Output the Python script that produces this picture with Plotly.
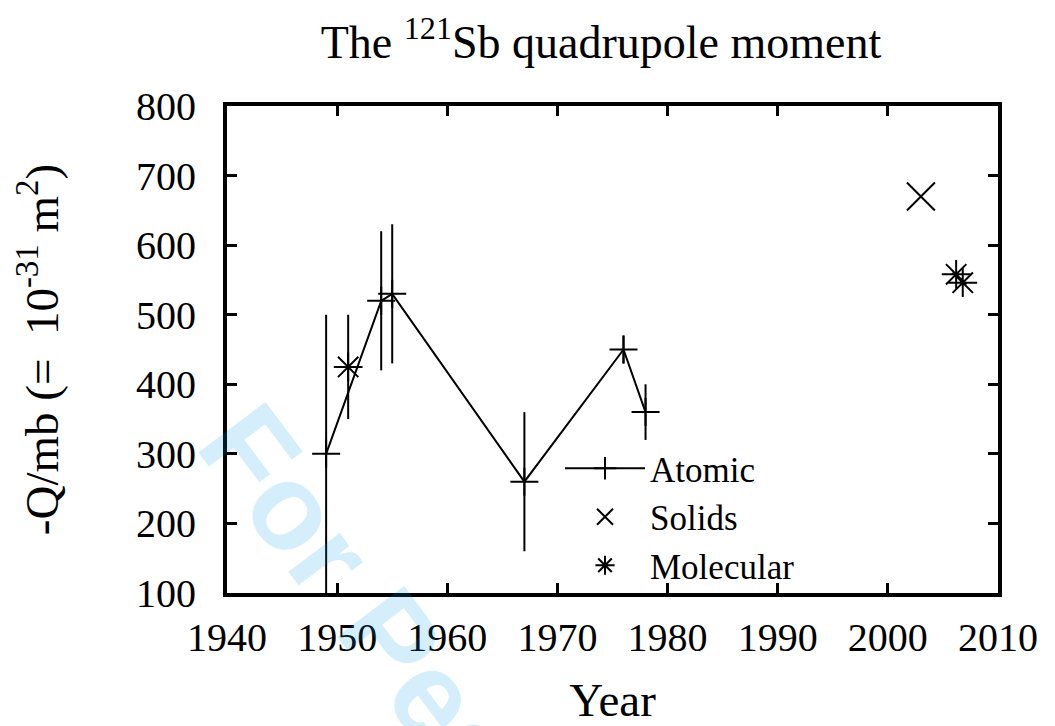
import plotly.graph_objects as go

# ---- data ----
atomic_year = [1949, 1954, 1955, 1967, 1976, 1978]
atomic_q = [300, 520, 530, 260, 450, 360]
atomic_err = [200, 100, 100, 100, 20, 40]

solids_year = [2003]
solids_q = [670]

molecular_year = [1951, 2006.2, 2006.8]
molecular_q = [425, 558, 546]
molecular_err = [75, 0, 0]

x_ticks = [1940, 1950, 1960, 1970, 1980, 1990, 2000, 2010]
y_ticks = [100, 200, 300, 400, 500, 600, 700, 800]

SERIF = "Liberation Serif, Times New Roman, serif"
BLACK = "black"

fig = go.Figure()

fig.add_trace(go.Scatter(
    x=atomic_year, y=atomic_q, name="Atomic", mode="lines+markers",
    line=dict(color=BLACK, width=2),
    marker=dict(symbol="cross-thin", size=20, line=dict(color=BLACK, width=2)),
    error_y=dict(type="data", array=atomic_err, visible=True, color=BLACK,
                 thickness=2, width=0),
))

fig.add_trace(go.Scatter(
    x=solids_year, y=solids_q, name="Solids", mode="markers",
    marker=dict(symbol="x-thin", size=28, line=dict(color=BLACK, width=2)),
))

fig.add_trace(go.Scatter(
    x=molecular_year, y=molecular_q, name="Molecular", mode="markers",
    marker=dict(symbol="asterisk", size=24, line=dict(color=BLACK, width=2)),
    error_y=dict(type="data", array=molecular_err, visible=True, color=BLACK,
                 thickness=2, width=0),
))

axis_common = dict(
    showline=True, linecolor=BLACK, linewidth=4, mirror="allticks",
    ticks="inside", ticklen=10, tickwidth=3, tickcolor=BLACK,
    showgrid=False, zeroline=False,
    tickfont=dict(family=SERIF, size=40, color=BLACK),
)

fig.update_xaxes(
    range=[1940, 2010], tickvals=x_ticks, ticktext=[str(v) for v in x_ticks],
    ticklabelstandoff=6,
    title=dict(text="Year", font=dict(family=SERIF, size=47, color=BLACK), standoff=28),
    **axis_common,
)
fig.update_yaxes(
    range=[100, 800], tickvals=y_ticks, ticktext=[str(v) for v in y_ticks],
    ticklabelstandoff=19,
    title=dict(text="-Q/mb (=  10<sup>-31</sup> m<sup>2</sup>)",
               font=dict(family=SERIF, size=47, color=BLACK), standoff=64),
    **axis_common,
)

L, R, T, B = 227, 57, 106, 133
W, H = 1055, 726
PW, PH = W - L - R, H - T - B

fig.update_layout(
    width=W, height=H,
    margin=dict(l=L, r=R, t=T, b=B, autoexpand=False),
    paper_bgcolor="white", plot_bgcolor="white",
    font=dict(family=SERIF, color=BLACK),
    title=dict(text="The <sup>121</sup>Sb quadrupole moment",
               font=dict(family=SERIF, size=46, color=BLACK),
               x=(601 - L) / PW, xref="paper", xanchor="center",
               y=1 - 42 / H, yref="container", yanchor="middle"),
    showlegend=True,
    legend=dict(
        x=(560 - L) / PW, y=(592 - 438) / PH,
        xanchor="left", yanchor="top",
        bgcolor="rgba(0,0,0,0)", borderwidth=0,
        font=dict(family=SERIF, size=35, color=BLACK),
        itemwidth=80, itemsizing="trace", tracegroupgap=0,
    ),
    annotations=[dict(
        text="For Peer Review", xref="paper", yref="paper",
        x=(513 - L) / PW, y=(592 - 799) / PH,
        xanchor="center", yanchor="middle", showarrow=False, textangle=53,
        font=dict(family="Liberation Sans, Arial, sans-serif", size=122,
                  color="rgba(0,160,230,0.17)", weight="bold"),
    )],
)

fig.write_html(
    "out.html",
    config={"displayModeBar": False},
    post_script="document.body.style.margin='0';document.body.style.overflow='hidden';",
)
